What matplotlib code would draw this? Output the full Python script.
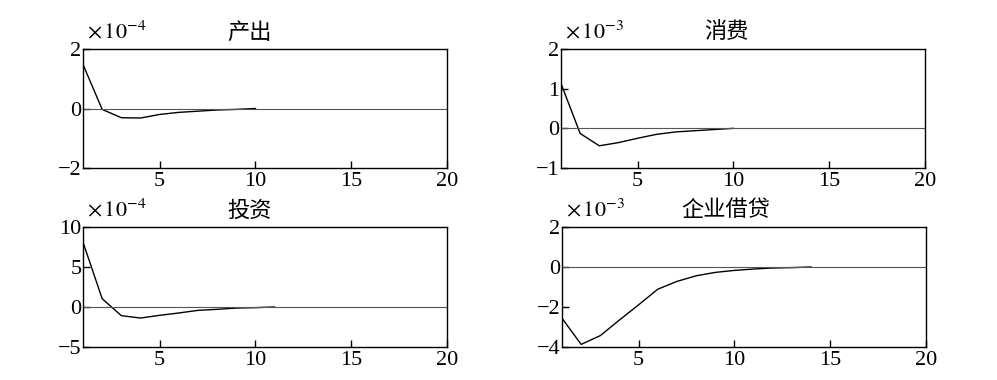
import numpy as np
import matplotlib.pyplot as plt

plt.rcParams['font.family'] = ['Liberation Serif', 'Noto Sans CJK SC']
plt.rcParams['mathtext.fontset'] = 'stix'

# impulse responses, periods 1..N
periods = np.arange(1, 21)

output_resp = [1.48, -0.03, -0.31, -0.32, -0.20, -0.13, -0.09, -0.05, -0.03, 0.0]          # x1e-4
consum_resp = [1.13, -0.13, -0.44, -0.36, -0.25, -0.15, -0.09, -0.06, -0.03, 0.0]          # x1e-3
invest_resp = [8.1, 1.04, -1.08, -1.38, -1.04, -0.75, -0.42, -0.29, -0.13, -0.08, 0.0]     # x1e-4
loan_resp = [-2.56, -3.87, -3.43, -2.65, -1.89, -1.11, -0.72, -0.44, -0.27, -0.17,
             -0.10, -0.05, -0.03, 0.0]                                                        # x1e-3

titles = ["产出", "消费", "投资", "企业借贷"]
exponents = [-4, -3, -4, -3]
ylims = [(-2, 2), (-1, 2), (-5, 10), (-4, 2)]
yticks = [[-2, 0, 2], [-1, 0, 1, 2], [-5, 0, 5, 10], [-4, -2, 0, 2]]
xticks = [5, 10, 15, 20]

W, H = 997, 380
# axes boxes in pixels: left, top, right, bottom
boxes = [(83, 49, 447, 168), (561, 49, 925, 168),
         (83, 227, 447, 347), (562, 227, 926, 347)]
title_pos = [(250, 32), (726, 32), (250, 210), (726, 210)]

fig = plt.figure(figsize=(W / 100, H / 100), dpi=100)
series = [output_resp, consum_resp, invest_resp, loan_resp]

for i, (l, t, r, b) in enumerate(boxes):
    ax = fig.add_axes([l / W, (H - b) / H, (r - l) / W, (b - t) / H])
    y = series[i]
    ax.plot(periods[:len(y)], y, color='black', lw=1.0)
    ax.axhline(0, color='#555555', lw=0.8)
    ax.set_xlim(1, 20)
    ax.set_ylim(*ylims[i])
    ax.set_xticks(xticks)
    ax.set_yticks(yticks[i])
    ax.tick_params(direction='in', length=5, width=1, labelsize=16, pad=1,
                   top=False, right=False)
    ax.tick_params(axis='x', pad=3)
    for s in ax.spines.values():
        s.set_linewidth(1.0)
    fig.text((l + 4) / W, (H - title_pos[i][1]) / H,
             r'$\times\,10^{%d}$' % exponents[i], fontsize=16,
             ha='left', va='center')
    fig.text(title_pos[i][0] / W, (H - title_pos[i][1]) / H, titles[i],
             fontsize=16, ha='center', va='center',
             family=['Noto Sans CJK SC', 'DejaVu Sans'])

fig.savefig("out.png", dpi=100, facecolor='white')
